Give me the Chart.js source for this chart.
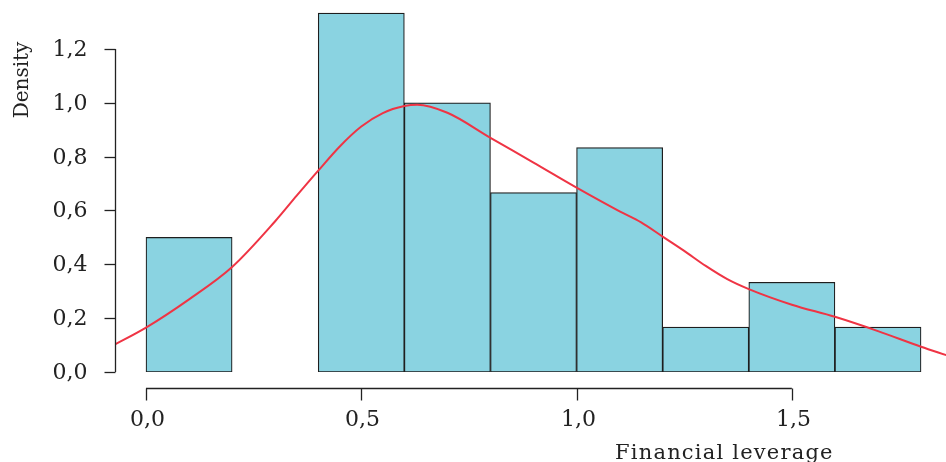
<!DOCTYPE html>
<html>
<head>
<meta charset="utf-8">
<script src="https://cdn.jsdelivr.net/npm/chart.js@4"></script>
<style>
  html, body { margin: 0; padding: 0; background: #fff; }
  #wrap { width: 946px; height: 462px; position: relative; }
</style>
</head>
<body>
<div id="wrap"><canvas id="chart"></canvas></div>
<script>
// histogram bins (left edges) and their densities
const binStarts = [0.0, 0.2, 0.4, 0.6, 0.8, 1.0, 1.2, 1.4, 1.6];
const binWidth = 0.2;
const binDensity = [0.5, 0, 1.3333, 1.0, 0.6667, 0.8333, 0.1667, 0.3333, 0.1667];

// kernel density curve
const curveX = [-0.075, 0.0, 0.1, 0.2, 0.3, 0.35, 0.4, 0.45, 0.5, 0.55, 0.6, 0.63, 0.7, 0.8, 0.9, 1.0, 1.1, 1.15, 1.2, 1.25, 1.3, 1.35, 1.4, 1.5, 1.6, 1.7, 1.8, 1.86];
const curveY = [0.10, 0.165, 0.27, 0.39, 0.56, 0.655, 0.748, 0.838, 0.912, 0.962, 0.988, 0.993, 0.963, 0.87, 0.778, 0.685, 0.597, 0.556, 0.503, 0.45, 0.394, 0.345, 0.308, 0.25, 0.205, 0.152, 0.094, 0.062];

// axis ticks
const yTicks = [0.0, 0.2, 0.4, 0.6, 0.8, 1.0, 1.2];
const yTickLabels = ['0,0', '0,2', '0,4', '0,6', '0,8', '1,0', '1,2'];
const xTicks = [0.0, 0.5, 1.0, 1.5];
const xTickLabels = ['0,0', '0,5', '1,0', '1,5'];

const xTitle = 'Financial leverage';
const yTitle = 'Density';

const FONT = '"DejaVu Serif", serif';
const INK = '#222';

/** Draws R-style detached axes using the chart's own scales */
const rAxes = {
    id: 'rAxes',
    afterDraw(chart) {
        const ctx = chart.ctx;
        const area = chart.chartArea;
        const xs = chart.scales.x;
        const ys = chart.scales.y;
        ctx.save();
        ctx.strokeStyle = INK;
        ctx.fillStyle = INK;
        ctx.lineWidth = 1.3;
        ctx.font = '22px ' + FONT;

        // y axis
        const ax = Math.round(area.left) + 0.5;
        ctx.beginPath();
        ctx.moveTo(ax, ys.getPixelForValue(yTicks[0]));
        ctx.lineTo(ax, ys.getPixelForValue(yTicks[yTicks.length - 1]));
        ctx.stroke();
        ctx.textAlign = 'right';
        ctx.textBaseline = 'middle';
        yTicks.forEach((v, i) => {
            const py = Math.round(ys.getPixelForValue(v)) + 0.5;
            ctx.beginPath();
            ctx.moveTo(ax - 11, py);
            ctx.lineTo(ax, py);
            ctx.stroke();
            ctx.fillText(yTickLabels[i], ax - 28, py + 1);
        });

        // x axis, offset below the plot
        const ay = Math.round(area.bottom) + 16.5;
        ctx.beginPath();
        ctx.moveTo(xs.getPixelForValue(xTicks[0]), ay);
        ctx.lineTo(xs.getPixelForValue(xTicks[xTicks.length - 1]), ay);
        ctx.stroke();
        ctx.textAlign = 'center';
        ctx.textBaseline = 'alphabetic';
        xTicks.forEach((v, i) => {
            const px = Math.round(xs.getPixelForValue(v)) + 0.5;
            ctx.beginPath();
            ctx.moveTo(px, ay);
            ctx.lineTo(px, ay + 12);
            ctx.stroke();
            ctx.fillText(xTickLabels[i], px + 1, ay + 37);
        });

        // titles
        ctx.textAlign = 'left';
        ctx.font = '21px ' + FONT;
        ctx.letterSpacing = '1.2px';
        ctx.fillText(xTitle, 615, 459);
        ctx.letterSpacing = '0px';
        ctx.font = '20px ' + FONT;
        ctx.textAlign = 'center';
        ctx.translate(28, 80);
        ctx.rotate(-Math.PI / 2);
        ctx.fillText(yTitle, 0, 0);
        ctx.restore();
    }
};

new Chart(document.getElementById('chart'), {
    data: {
        datasets: [
            {
                type: 'line',
                order: 0,
                data: curveX.map((x, i) => ({ x: x, y: curveY[i] })),
                borderColor: '#ef3444',
                borderWidth: 2,
                pointRadius: 0,
                cubicInterpolationMode: 'monotone',
                fill: false
            },
            {
                type: 'bar',
                order: 1,
                data: binStarts.map((s, i) => ({ x: s + binWidth / 2, y: binDensity[i] })),
                backgroundColor: '#8ad3e1',
                borderColor: '#1e1e1e',
                borderWidth: 1.2,
                borderSkipped: false,
                barPercentage: 1,
                categoryPercentage: 1
            }
        ]
    },
    options: {
        responsive: true,
        maintainAspectRatio: false,
        animation: false,
        layout: { padding: { left: 115, right: 0, top: 0, bottom: 90 } },
        plugins: {
            legend: { display: false },
            tooltip: { enabled: false }
        },
        scales: {
            x: { type: 'linear', min: -0.072, max: 1.858, offset: false, display: false },
            y: { type: 'linear', min: 0, max: 1.382, display: false }
        }
    },
    plugins: [rAxes]
});
</script>
</body>
</html>
